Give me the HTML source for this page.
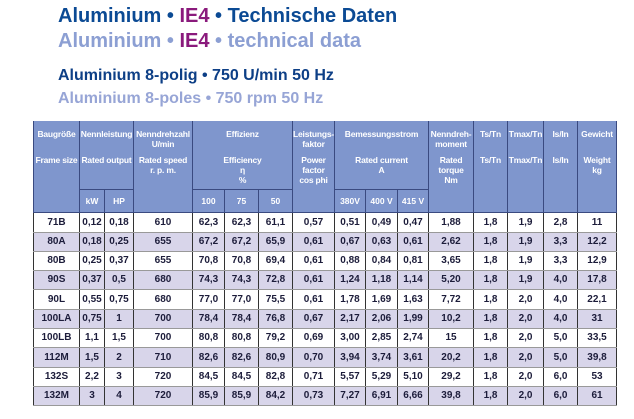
<!DOCTYPE html>
<html><head><meta charset="utf-8"><style>
body{margin:0;width:634px;height:419px;background:#fff;position:relative;overflow:hidden;font-family:"Liberation Sans",sans-serif}
.t{position:absolute;white-space:nowrap;font-weight:bold}
.l1{left:58px;top:5px;font-size:20px;color:#0b4a94}
.l2{left:58px;top:30px;font-size:20px;color:#8c9fd3}
.ie{color:#8a1a7c}
.l3{left:58px;top:67px;font-size:16px;color:#0d3f86}
.l4{left:58px;top:90px;font-size:16px;color:#97a5d6}
table{position:absolute;left:33px;top:121px;border-collapse:collapse;table-layout:fixed;width:583px}
td{padding:0;text-align:center;font-size:10px;font-weight:bold;color:#1c1c3a;border-left:1px solid #333;border-right:1px solid #333;border-bottom:1.5px solid #999;overflow:hidden;white-space:nowrap}
tr.h td{background:#7f96cd;color:#fff;font-size:8.5px;vertical-align:top;line-height:10px;border-color:#3a4a80;border-bottom:1px solid #3a4a80;letter-spacing:-0.2px}
tr.h td.p{padding-top:8px}
tr.s td{background:#7f96cd;color:#fff;font-size:8.5px;vertical-align:middle;border-color:#3a4a80}
tr.a td{background:#d8d5ea}
.g{display:block;height:16px}
</style></head><body>
<div class="t l1">Aluminium • <span class="ie">IE4</span> • Technische Daten</div>
<div class="t l2">Aluminium • <span class="ie">IE4</span> • technical data</div>
<div class="t l3">Aluminium 8-polig • 750 U/min 50 Hz</div>
<div class="t l4">Aluminium 8-poles • 750 rpm 50 Hz</div>
<table>
<colgroup><col style="width:46px"><col style="width:25px"><col style="width:29px"><col style="width:59px"><col style="width:32px"><col style="width:34px"><col style="width:34px"><col style="width:42px"><col style="width:31px"><col style="width:32px"><col style="width:31px"><col style="width:45px"><col style="width:34px"><col style="width:36px"><col style="width:34px"><col style="width:39px"></colgroup>
<tr class="h" style="height:68px">
<td class="p" rowspan="2">Baugröße<span class="g"></span>Frame size</td>
<td class="p" colspan="2">Nennleistung<span class="g"></span>Rated output</td>
<td class="p" rowspan="2">Nenndrehzahl<br>U/min<br><span style="display:block;height:6px"></span>Rated speed<br>r. p. m.</td>
<td class="p" colspan="3">Effizienz<span class="g"></span>Efficiency<br>η<br>%</td>
<td class="p" rowspan="2">Leistungs-<br>faktor<br><span style="display:block;height:6px"></span>Power<br>factor<br>cos phi</td>
<td class="p" colspan="3">Bemessungsstrom<span class="g"></span>Rated current<br>A</td>
<td class="p" rowspan="2">Nenndreh-<br>moment<br><span style="display:block;height:6px"></span>Rated<br>torque<br>Nm</td>
<td class="p" rowspan="2">Ts/Tn<span class="g"></span>Ts/Tn</td>
<td class="p" rowspan="2">Tmax/Tn<span class="g"></span>Tmax/Tn</td>
<td class="p" rowspan="2">Is/In<span class="g"></span>Is/In</td>
<td class="p" rowspan="2">Gewicht<span class="g"></span>Weight<br>kg</td>
</tr>
<tr class="s" style="height:23px"><td>kW</td><td>HP</td><td>100</td><td>75</td><td>50</td><td>380V</td><td>400 V</td><td>415 V</td></tr>
<tr style="height:20px"><td>71B</td><td>0,12</td><td>0,18</td><td>610</td><td>62,3</td><td>62,3</td><td>61,1</td><td>0,57</td><td>0,51</td><td>0,49</td><td>0,47</td><td>1,88</td><td>1,8</td><td>1,9</td><td>2,8</td><td>11</td></tr>
<tr class="a" style="height:19px"><td>80A</td><td>0,18</td><td>0,25</td><td>655</td><td>67,2</td><td>67,2</td><td>65,9</td><td>0,61</td><td>0,67</td><td>0,63</td><td>0,61</td><td>2,62</td><td>1,8</td><td>1,9</td><td>3,3</td><td>12,2</td></tr>
<tr style="height:19px"><td>80B</td><td>0,25</td><td>0,37</td><td>655</td><td>70,8</td><td>70,8</td><td>69,4</td><td>0,61</td><td>0,88</td><td>0,84</td><td>0,81</td><td>3,65</td><td>1,8</td><td>1,9</td><td>3,3</td><td>12,9</td></tr>
<tr class="a" style="height:19px"><td>90S</td><td>0,37</td><td>0,5</td><td>680</td><td>74,3</td><td>74,3</td><td>72,8</td><td>0,61</td><td>1,24</td><td>1,18</td><td>1,14</td><td>5,20</td><td>1,8</td><td>1,9</td><td>4,0</td><td>17,8</td></tr>
<tr style="height:20px"><td>90L</td><td>0,55</td><td>0,75</td><td>680</td><td>77,0</td><td>77,0</td><td>75,5</td><td>0,61</td><td>1,78</td><td>1,69</td><td>1,63</td><td>7,72</td><td>1,8</td><td>2,0</td><td>4,0</td><td>22,1</td></tr>
<tr class="a" style="height:19px"><td>100LA</td><td>0,75</td><td>1</td><td>700</td><td>78,4</td><td>78,4</td><td>76,8</td><td>0,67</td><td>2,17</td><td>2,06</td><td>1,99</td><td>10,2</td><td>1,8</td><td>2,0</td><td>4,0</td><td>31</td></tr>
<tr style="height:19px"><td>100LB</td><td>1,1</td><td>1,5</td><td>700</td><td>80,8</td><td>80,8</td><td>79,2</td><td>0,69</td><td>3,00</td><td>2,85</td><td>2,74</td><td>15</td><td>1,8</td><td>2,0</td><td>5,0</td><td>33,5</td></tr>
<tr class="a" style="height:20px"><td>112M</td><td>1,5</td><td>2</td><td>710</td><td>82,6</td><td>82,6</td><td>80,9</td><td>0,70</td><td>3,94</td><td>3,74</td><td>3,61</td><td>20,2</td><td>1,8</td><td>2,0</td><td>5,0</td><td>39,8</td></tr>
<tr style="height:19px"><td>132S</td><td>2,2</td><td>3</td><td>720</td><td>84,5</td><td>84,5</td><td>82,8</td><td>0,71</td><td>5,57</td><td>5,29</td><td>5,10</td><td>29,2</td><td>1,8</td><td>2,0</td><td>6,0</td><td>53</td></tr>
<tr class="a" style="height:19px"><td>132M</td><td>3</td><td>4</td><td>720</td><td>85,9</td><td>85,9</td><td>84,2</td><td>0,73</td><td>7,27</td><td>6,91</td><td>6,66</td><td>39,8</td><td>1,8</td><td>2,0</td><td>6,0</td><td>61</td></tr>
</table>
</body></html>
